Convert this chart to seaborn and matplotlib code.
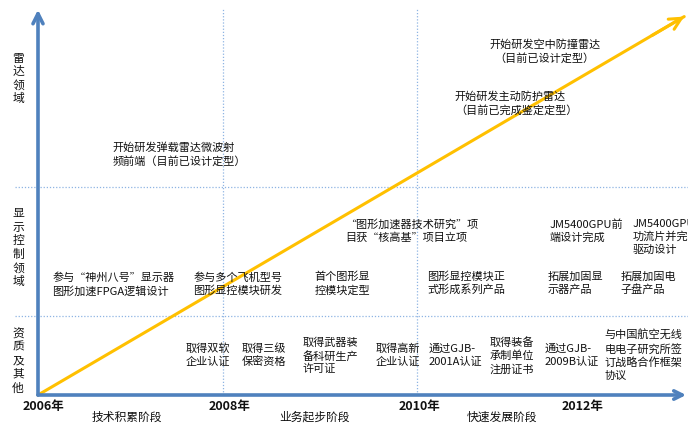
'''
Company development timeline (radar / display control / qualifications).
'''

import matplotlib
matplotlib.use('Agg')
import pandas as pd
import seaborn as sns
from matplotlib import pyplot as plt

# time axis
year_labels = ['2006年', '2008年', '2010年', '2012年']
year_label_x = [2006.06, 2008.02, 2010.03, 2011.75]
era_lines = [2007.95, 2010]

stages = ['技术积累阶段', '业务起步阶段', '快速发展阶段']
stage_x = [2006.94, 2008.92, 2010.90]

# fields along the vertical axis (0 = time axis, 100 = top)
fields = ['雷达领域', '显示控制领域', '资质及其他']
field_y = [82.6, 38.5, 8.9]
field_borders = [20.6, 54.3]

# rising trend line
trend_x = [2006, 2012.82]
trend_y = [0, 98.8]

radar_text = ['开始研发弹载雷达微波射\n频前端（目前已设计定型）',
              '开始研发空中防撞雷达\n（目前已设计定型）',
              '开始研发主动防护雷达\n（目前已完成鉴定定型）']
radar_x = [2006.79, 2010.76, 2010.40]
radar_y = [62.8, 89.7, 76.1]

display_text = ['参与“神州八号”显示器\n图形加速FPGA逻辑设计',
                '参与多个飞机型号\n图形显控模块研发',
                '首个图形显\n控模块定型',
                '“图形加速器技术研究”项\n目获“核高基”项目立项',
                '图形显控模块正\n式形成系列产品',
                'JM5400GPU前\n端设计完成',
                'JM5400GPU成\n功流片并完成\n驱动设计',
                '拓展加固显\n示器产品',
                '拓展加固电\n子盘产品']
display_x = [2006.15, 2007.64, 2008.92, 2009.24, 2010.11, 2011.40, 2012.28, 2011.38, 2012.15]
display_y = [28.9, 28.9, 29.1, 42.8, 29.2, 42.8, 41.3, 29.2, 29.2]

qual_text = ['取得双软\n企业认证',
             '取得三级\n保密资格',
             '取得武器装\n备科研生产\n许可证',
             '取得高新\n企业认证',
             '通过GJB-\n2001A认证',
             '取得装备\n承制单位\n注册证书',
             '通过GJB-\n2009B认证',
             '与中国航空无线\n电电子研究所签\n订战略合作框架\n协议']
qual_x = [2007.56, 2008.15, 2008.79, 2009.56, 2010.12, 2010.77, 2011.35, 2011.98]
qual_y = [10.4, 10.4, 10.2, 10.4, 10.4, 10.2, 10.4, 10.4]

sns.set_theme(style='white')
plt.rcParams['font.family'] = ['Noto Sans CJK SC', 'DejaVu Sans']

blue = '#4f81bd'
dot_blue = '#8eb4e3'
yellow = '#ffc000'
ink = '#111111'

fig = plt.figure(figsize=(6.88, 4.24), dpi=100)
ax = fig.add_axes([0, 0, 1, 1])
ax.set_xlim(2005.599, 2012.860)
ax.set_ylim(-7.57, 103.13)
ax.axis('off')

# dotted grid between fields and eras
for b in field_borders:
    ax.plot([2005.76, 2012.86], [b, b], color=dot_blue, lw=0.9, ls=(0, (1, 1.5)))
for e in era_lines:
    ax.plot([e, e], [0, 101], color=dot_blue, lw=0.9, ls=(0, (1, 1.5)))

# trend line
trend = pd.DataFrame({'year': trend_x, 'level': trend_y})
sns.lineplot(data=trend, x='year', y='level', color=yellow, lw=2.2, ax=ax)
dx = trend_x[1] - trend_x[0]
dy = trend_y[1] - trend_y[0]
ax.annotate('', xy=(trend_x[1], trend_y[1]),
            xytext=(trend_x[1] - 0.05 * dx, trend_y[1] - 0.05 * dy),
            arrowprops=dict(arrowstyle='->,head_length=0.7,head_width=0.35',
                            color=yellow, lw=2.2, shrinkA=0, shrinkB=0))

# axes arrows
ax.annotate('', xy=(2006, 100.6), xytext=(2006, 0),
            arrowprops=dict(arrowstyle='->,head_length=0.6,head_width=0.3',
                            color=blue, lw=2.6, shrinkA=0, shrinkB=0))
ax.annotate('', xy=(2012.84, 0), xytext=(2006, 0),
            arrowprops=dict(arrowstyle='->,head_length=0.5,head_width=0.25',
                            color=blue, lw=2.6, shrinkA=0, shrinkB=0))

# labels on the axes
for lab, x in zip(year_labels, year_label_x):
    ax.text(x, -3.1, lab, ha='center', va='center', fontsize=9,
            fontweight='bold', color=ink)
for lab, x in zip(stages, stage_x):
    ax.text(x, -5.8, lab, ha='center', va='center', fontsize=8.5, color=ink)
for lab, y in zip(fields, field_y):
    ax.text(2005.79, y, '\n'.join(lab), ha='center', va='center',
            fontsize=8.5, linespacing=1.05, color=ink)

# events
for t, x, y in zip(radar_text, radar_x, radar_y):
    ax.text(x, y, t, ha='left', va='center', fontsize=8, linespacing=1.3, color=ink,
            multialignment='center' if t.startswith('开始研发空') else 'left')
for t, x, y in zip(display_text, display_x, display_y):
    ax.text(x, y, t, ha='left', va='center', fontsize=8, linespacing=1.3, color=ink,
            multialignment='center' if t.startswith('首个') else 'left')
for t, x, y in zip(qual_text, qual_x, qual_y):
    ax.text(x, y, t, ha='left', va='center', fontsize=8, linespacing=1.3, color=ink)

fig.savefig('out.png', dpi=100)
